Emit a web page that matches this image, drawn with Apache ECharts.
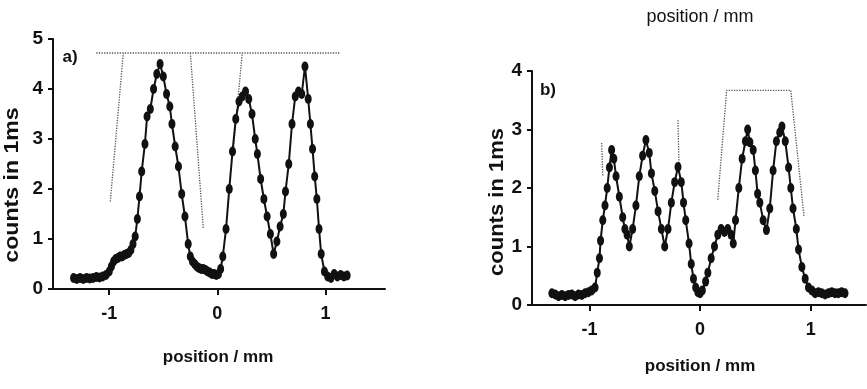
<!DOCTYPE html>
<html>
<head>
<meta charset="utf-8">
<script src="https://cdn.jsdelivr.net/npm/echarts@6/dist/echarts.min.js"></script>
<style>
  html, body { margin: 0; padding: 0; background: #fff; }
  #chart { width: 867px; height: 389px; }
</style>
</head>
<body>
<div id="chart"></div>
<script>
// panel a) measured counts
const posA = [-1.33, -1.30, -1.27, -1.24, -1.21, -1.18, -1.15, -1.12, -1.09, -1.06, -1.03, -1.00, -0.98, -0.96, -0.94, -0.92, -0.90, -0.88, -0.86, -0.84, -0.82, -0.80, -0.78, -0.76, -0.74, -0.72, -0.70, -0.67, -0.65, -0.62, -0.59, -0.56, -0.53, -0.50, -0.47, -0.44, -0.42, -0.39, -0.36, -0.33, -0.30, -0.27, -0.25, -0.23, -0.21, -0.19, -0.17, -0.15, -0.13, -0.11, -0.09, -0.07, -0.05, -0.03, -0.01, 0.01, 0.03, 0.05, 0.08, 0.11, 0.14, 0.17, 0.20, 0.23, 0.26, 0.29, 0.32, 0.35, 0.37, 0.40, 0.43, 0.46, 0.49, 0.52, 0.55, 0.58, 0.61, 0.63, 0.66, 0.69, 0.72, 0.75, 0.78, 0.81, 0.84, 0.86, 0.88, 0.90, 0.92, 0.94, 0.96, 0.99, 1.02, 1.05, 1.08, 1.11, 1.14, 1.17, 1.20]
const countsA = [0.22, 0.20, 0.22, 0.20, 0.22, 0.21, 0.22, 0.24, 0.23, 0.25, 0.28, 0.35, 0.45, 0.55, 0.60, 0.62, 0.65, 0.65, 0.68, 0.70, 0.72, 0.78, 0.90, 1.05, 1.40, 1.85, 2.35, 2.90, 3.45, 3.60, 4.00, 4.30, 4.50, 4.25, 3.90, 3.65, 3.30, 2.85, 2.45, 1.90, 1.45, 0.90, 0.65, 0.55, 0.50, 0.45, 0.42, 0.40, 0.40, 0.38, 0.35, 0.33, 0.30, 0.30, 0.28, 0.30, 0.40, 0.65, 1.20, 2.00, 2.75, 3.40, 3.75, 3.85, 3.95, 3.80, 3.50, 3.00, 2.70, 2.20, 1.80, 1.45, 1.10, 0.70, 0.95, 1.25, 1.50, 1.95, 2.50, 3.30, 3.85, 3.95, 3.90, 4.45, 3.80, 3.30, 2.80, 2.25, 1.80, 1.20, 0.70, 0.35, 0.25, 0.22, 0.30, 0.25, 0.28, 0.25, 0.27]
// panel a) dotted reference outline ('-' breaks the line)
const guideAx = [-1.12, 1.14, '-', -0.99, -0.87, '-', -0.25, -0.13, '-', 0.15, 0.23]
const guideAy = [4.72, 4.72, '-', 1.75, 4.72, '-', 4.72, 1.20, '-', 2.85, 4.72]

// panel b) measured counts
const posB = [-1.34, -1.31, -1.28, -1.25, -1.22, -1.19, -1.16, -1.13, -1.10, -1.07, -1.04, -1.01, -0.98, -0.95, -0.93, -0.91, -0.90, -0.88, -0.86, -0.84, -0.82, -0.80, -0.78, -0.76, -0.73, -0.70, -0.68, -0.66, -0.64, -0.61, -0.58, -0.55, -0.52, -0.49, -0.46, -0.44, -0.41, -0.38, -0.35, -0.32, -0.29, -0.26, -0.23, -0.20, -0.17, -0.15, -0.13, -0.10, -0.08, -0.06, -0.04, -0.02, 0.00, 0.02, 0.05, 0.07, 0.10, 0.13, 0.16, 0.19, 0.22, 0.25, 0.28, 0.30, 0.32, 0.35, 0.38, 0.41, 0.43, 0.45, 0.48, 0.50, 0.52, 0.54, 0.57, 0.60, 0.63, 0.66, 0.69, 0.72, 0.74, 0.77, 0.80, 0.82, 0.84, 0.87, 0.89, 0.92, 0.95, 0.98, 1.01, 1.04, 1.07, 1.10, 1.13, 1.16, 1.19, 1.22, 1.25, 1.28, 1.31]
const countsB = [0.20, 0.18, 0.15, 0.17, 0.15, 0.17, 0.18, 0.15, 0.18, 0.17, 0.20, 0.22, 0.25, 0.30, 0.55, 0.80, 1.10, 1.45, 1.70, 2.00, 2.35, 2.65, 2.50, 2.20, 1.85, 1.50, 1.30, 1.20, 1.00, 1.30, 1.70, 2.20, 2.55, 2.82, 2.60, 2.25, 1.95, 1.60, 1.30, 1.00, 1.30, 1.75, 2.10, 2.36, 2.10, 1.75, 1.45, 1.05, 0.70, 0.45, 0.30, 0.22, 0.20, 0.25, 0.40, 0.55, 0.80, 1.00, 1.20, 1.30, 1.25, 1.30, 1.20, 1.05, 1.45, 2.00, 2.50, 2.80, 3.00, 2.78, 2.65, 2.30, 1.90, 1.75, 1.45, 1.28, 1.65, 2.30, 2.80, 2.95, 3.05, 2.80, 2.35, 2.00, 1.65, 1.30, 0.95, 0.65, 0.45, 0.30, 0.25, 0.20, 0.22, 0.20, 0.18, 0.20, 0.22, 0.20, 0.20, 0.22, 0.20]
// panel b) dotted reference outline
const guideBx = [0.16, 0.24, 0.82, 0.94, '-', -0.89, -0.88, '-', -0.20, -0.19]
const guideBy = [1.80, 3.67, 3.67, 1.50, '-', 2.77, 2.20, '-', 3.16, 2.30]

const xTicks = [-1, 0, 1]
const yTicksA = [0, 1, 2, 3, 4, 5]
const yTicksB = [0, 1, 2, 3, 4]

const FONT = 'Liberation Sans, Arial, sans-serif'
const zip = (xs, ys) => xs.map((x, i) => [x, ys[i]])

const xAxisBase = (gridIndex, min, max, margin) => ({
  type: 'value', gridIndex, min, max,
  axisLine: { onZero: false, lineStyle: { color: '#111', width: 2 } },
  axisTick: { customValues: xTicks, length: 6, lineStyle: { color: '#111', width: 2 } },
  axisLabel: { customValues: xTicks, margin, color: '#111', fontSize: 18, fontWeight: 'bold', fontFamily: FONT },
  splitLine: { show: false }
})
const yAxisBase = (gridIndex, ticks) => ({
  type: 'value', gridIndex, min: 0, max: ticks[ticks.length - 1], interval: 1,
  axisLine: { show: true, onZero: false, lineStyle: { color: '#111', width: 2 } },
  axisTick: { show: true, length: 5, lineStyle: { color: '#111', width: 2 } },
  axisLabel: { margin: 10, color: '#111', fontSize: 19, fontWeight: 'bold', fontFamily: FONT },
  splitLine: { show: false }
})

const dataSeries = (idx, xs, ys) => ({
  type: 'line', xAxisIndex: idx, yAxisIndex: idx,
  data: zip(xs, ys),
  symbol: 'circle', symbolSize: [7, 10], showAllSymbol: true,
  itemStyle: { color: '#111' },
  lineStyle: { color: '#111', width: 2 },
  animation: false, z: 3
})
const guideSeries = (idx, xs, ys) => ({
  type: 'line', xAxisIndex: idx, yAxisIndex: idx,
  data: zip(xs, ys),
  symbol: 'none', connectNulls: false,
  lineStyle: { color: '#555', width: 1.3, type: 'dotted' },
  animation: false, z: 2
})

const txt = (x, y, text, size, bold, extra) => Object.assign({
  type: 'text', x, y,
  style: { text, fill: '#111', font: (bold ? 'bold ' : '') + size + 'px ' + FONT, align: 'center', verticalAlign: 'middle' }
}, extra || {})

const chart = echarts.init(document.getElementById('chart'))
chart.setOption({
  backgroundColor: '#fff',
  animation: false,
  grid: [
    { left: 53, top: 39, width: 332, height: 250 },
    { left: 532, top: 71, width: 334, height: 234 }
  ],
  xAxis: [xAxisBase(0, -1.52, 1.55, 16), xAxisBase(1, -1.52, 1.5, 16)],
  yAxis: [yAxisBase(0, yTicksA), yAxisBase(1, yTicksB)],
  series: [
    guideSeries(0, guideAx, guideAy),
    dataSeries(0, posA, countsA),
    guideSeries(1, guideBx, guideBy),
    dataSeries(1, posB, countsB)
  ],
  graphic: [
    txt(700, 17, 'position / mm', 18, false),
    txt(70, 57, 'a)', 17, true),
    txt(548, 90, 'b)', 17, true),
    txt(218, 357, 'position / mm', 17, true),
    txt(700, 366, 'position / mm', 17, true),
    txt(12, 185, 'counts in 1ms', 21, true, { rotation: Math.PI / 2, scaleX: 1.1 }),
    txt(497, 202, 'counts in 1ms', 20, true, { rotation: Math.PI / 2, scaleX: 1.1 })
  ]
})
</script>
</body>
</html>
